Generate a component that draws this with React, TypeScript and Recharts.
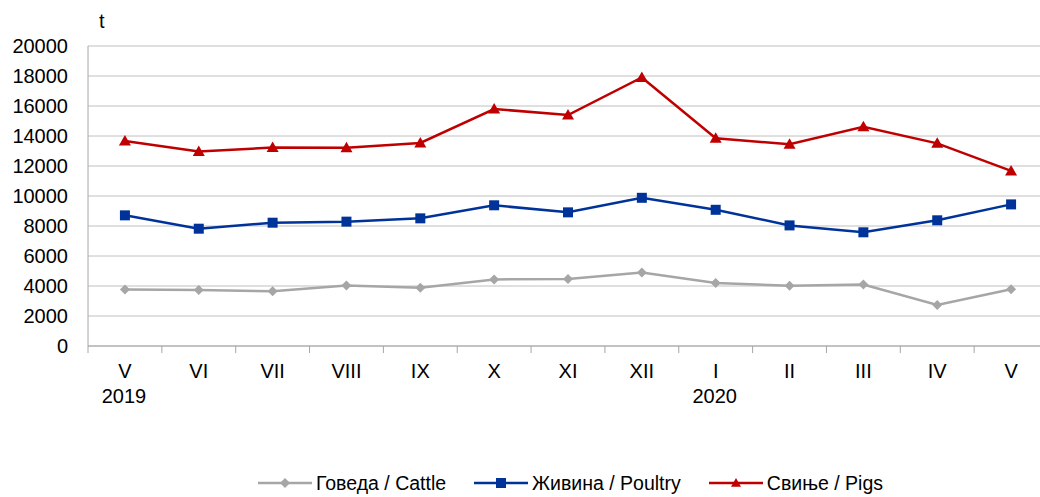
import { LineChart, Line, XAxis, YAxis, CartesianGrid, Legend } from 'recharts';

const months = ['V', 'VI', 'VII', 'VIII', 'IX', 'X', 'XI', 'XII', 'I', 'II', 'III', 'IV', 'V'];
const years = ['2019', '', '', '', '', '', '', '', '2020', '', '', '', ''];
const cattle = [3760, 3730, 3650, 4040, 3890, 4440, 4460, 4900, 4200, 4020, 4100, 2740, 3780];
const poultry = [8710, 7820, 8220, 8290, 8510, 9380, 8910, 9880, 9080, 8040, 7580, 8380, 9440];
const pigs = [13670, 12970, 13230, 13220, 13540, 15800, 15400, 17900, 13850, 13450, 14610, 13510, 11670];
const yTicks = [0, 2000, 4000, 6000, 8000, 10000, 12000, 14000, 16000, 18000, 20000];

const data = months.map((m, i) => ({
    month: m,
    year: years[i],
    cattle: cattle[i],
    poultry: poultry[i],
    pigs: pigs[i],
}));

const CHART_W = 1048;
const CHART_H = 497;
const YAXIS_W = 88;
const BAND = (CHART_W - YAXIS_W) / months.length;
const FONT = '"Liberation Sans", Arial, sans-serif';
const AXIS = '#a6a6a6';

const Diamond = ({ cx, cy, fill, s = 5 }: any) =>
    cx == null ? null : <path d={`M${cx},${cy - s}L${cx + s},${cy}L${cx},${cy + s}L${cx - s},${cy}Z`} fill={fill} />;
const Square = ({ cx, cy, fill, s = 5 }: any) =>
    cx == null ? null : <rect x={cx - s} y={cy - s} width={s * 2} height={s * 2} fill={fill} />;
const Triangle = ({ cx, cy, fill, s = 6 }: any) =>
    cx == null ? null : <path d={`M${cx},${cy - s}L${cx + s},${cy + s * 0.75}L${cx - s},${cy + s * 0.75}Z`} fill={fill} />;

const series = [
    { key: 'cattle', name: 'Говеда / Cattle', color: '#a6a6a6', Dot: Diamond },
    { key: 'poultry', name: 'Живина / Poultry', color: '#003399', Dot: Square },
    { key: 'pigs', name: 'Свиње / Pigs', color: '#c00000', Dot: Triangle },
];

const MonthTick = ({ x, y, payload, index }: any) => {
    const left = x - BAND / 2;
    return (
        <g>
            <line x1={left} y1={y} x2={left} y2={y + 7} stroke={AXIS} />
            <text x={x} y={y + 32} textAnchor="middle" fontSize={20} fill="#000" fontFamily={FONT}>{payload.value}</text>
            {years[index] && (
                <text x={x - 1} y={y + 57} textAnchor="middle" fontSize={20} fill="#000" fontFamily={FONT}>{years[index]}</text>
            )}
        </g>
    );
};

const LegendContent = () => (
    <div style={{ display: 'flex', height: 18, lineHeight: '18px', paddingBottom: 5, fontFamily: FONT, fontSize: 19.5, color: '#000', paddingLeft: 258 }}>
        {series.map((s) => (
            <div key={s.key} style={{ display: 'flex', alignItems: 'center', marginRight: 28 }}>
                <svg width={54} height={14} style={{ marginRight: 4 }}>
                    <line x1={0} y1={7} x2={54} y2={7} stroke={s.color} strokeWidth={2.5} />
                    <s.Dot cx={27} cy={7} fill={s.color} s={5} />
                </svg>
                <span style={{ whiteSpace: 'nowrap' }}>{s.name}</span>
            </div>
        ))}
    </div>
);

export default function App() {
    return (
        <div style={{ position: 'absolute', left: 0, top: 0, width: 1040, height: 497, overflow: 'hidden', background: '#fff' }}>
            <div style={{ position: 'absolute', left: 99, top: 10, fontFamily: FONT, fontSize: 20 }}>t</div>
            <LineChart width={CHART_W} height={CHART_H} data={data} margin={{ top: 46, right: 0, bottom: 0, left: 0 }}>
                <CartesianGrid horizontal vertical={false} stroke="#c0c0c0" />
                <XAxis
                    dataKey="month"
                    stroke={AXIS}
                    tickLine={false}
                    tickSize={0}
                    tickMargin={0}
                    interval={0}
                    height={128}
                    padding={{ left: BAND / 2, right: BAND / 2 }}
                    tick={<MonthTick />}
                />
                <YAxis
                    width={YAXIS_W}
                    domain={[0, 20000]}
                    ticks={yTicks}
                    interval={0}
                    stroke={AXIS}
                    tickLine={false}
                    tickSize={18}
                    tick={{ fill: '#000', fontSize: 20, fontFamily: FONT }}
                />
                <Legend verticalAlign="bottom" content={<LegendContent />} />
                {series.map((s) => (
                    <Line
                        key={s.key}
                        dataKey={s.key}
                        name={s.name}
                        stroke={s.color}
                        strokeWidth={2.5}
                        dot={<s.Dot fill={s.color} />}
                        activeDot={false}
                        isAnimationActive={false}
                    />
                ))}
            </LineChart>
        </div>
    );
}
